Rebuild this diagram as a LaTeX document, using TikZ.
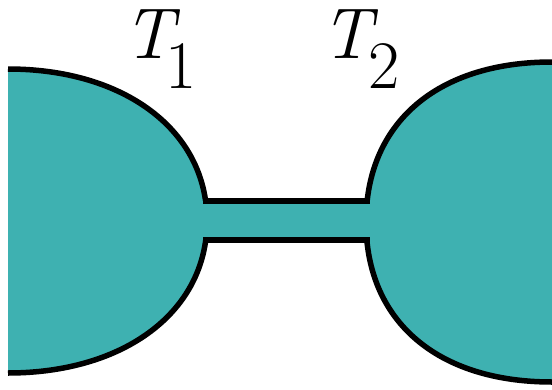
\documentclass[tikz,border=0pt]{standalone}
\usetikzlibrary{intersections}
\definecolor{blobfill}{RGB}{62,177,177}
\begin{document}
\begin{tikzpicture}[x=1pt,y=-1pt,
  outline/.style={line width=5.5pt, draw=black},
  lbl/.style={anchor=base west, inner sep=0pt, font=\fontsize{72}{72}\selectfont}]
\useasboundingbox (0,0) rectangle (552,389);
% fills
\fill[blobfill] (8,69) .. controls (124,69) and (207,130) .. (207,221)
   .. controls (207,312) and (124,373) .. (8,373) -- cycle;
\fill[blobfill] (552,62) .. controls (437,62) and (366,123) .. (366,222)
   .. controls (366,321) and (437,382) .. (552,382) -- cycle;
\fill[blobfill] (200,201) rectangle (372,240);
% paths for intersections
\path[name path=lb] (8,69) .. controls (124,69) and (207,130) .. (207,221)
   .. controls (207,312) and (124,373) .. (8,373);
\path[name path=rb] (552,62) .. controls (437,62) and (366,123) .. (366,222)
   .. controls (366,321) and (437,382) .. (552,382);
\path[name path=ht] (150,201) -- (420,201);
\path[name path=hb] (150,240) -- (420,240);
\path[name intersections={of=lb and ht, by={a1}}];
\path[name intersections={of=rb and ht, by={b1}}];
\path[name intersections={of=lb and hb, by={a2}}];
\path[name intersections={of=rb and hb, by={b2}}];
% outlines
\begin{scope}
  \clip (-20,-20) rectangle (600,201) (-20,240) rectangle (600,420);
  \draw[outline] (8,69) .. controls (124,69) and (207,130) .. (207,221)
     .. controls (207,312) and (124,373) .. (8,373);
  \draw[outline] (552,62) .. controls (437,62) and (366,123) .. (366,222)
     .. controls (366,321) and (437,382) .. (552,382);
\end{scope}
\draw[outline, line cap=rect] (a1) -- (a1 -| b1);
\draw[outline, line cap=rect] (a2) -- (a2 -| b2);
% labels
\node[lbl] (t1) at (123,58) {\itshape T\upshape\kern-8pt\raisebox{-30pt}{\fontsize{68}{68}\selectfont 1}};
\node[lbl] (t2) at (321,58) {\itshape T\upshape\kern-3pt\raisebox{-30pt}{\fontsize{68}{68}\selectfont 2}};
\end{tikzpicture}
\end{document}
